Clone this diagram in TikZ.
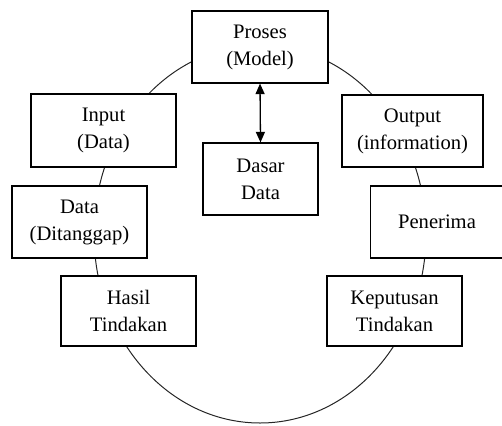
\documentclass[tikz,border=0pt]{standalone}
\usepackage{fontspec}
\setmainfont{Liberation Serif}
\usetikzlibrary{arrows.meta}
\begin{document}
\begin{tikzpicture}[x=1pt,y=-1pt,
  box/.style={draw=black, line width=1.2pt, fill=white, inner sep=0pt, align=center,
    font=\fontsize{20.6}{27}\selectfont},
  ring/.style={draw=black!85, line width=1pt},
  link/.style={line width=1.3pt, {Triangle[length=10.5pt,width=9pt]}-{Triangle[length=10.5pt,width=9pt]}}]
\useasboundingbox (0,0) rectangle (502,425);
\clip (0,0) rectangle (502,425);
\draw[ring] (260,234) ellipse [x radius=166pt, y radius=189pt];
\node[box, minimum width=136pt, minimum height=72pt] (proses) at (260,47) {Proses\\(Model)};
\node[box, minimum width=145pt, minimum height=73pt] (input) at (103.5,130.5) {Input\\(Data)};
\node[box, minimum width=115pt, minimum height=72pt] (dasar) at (260.5,179) {Dasar\\Data};
\node[box, minimum width=141pt, minimum height=72pt] (output) at (412.5,131) {Output\\(information)};
\node[box, minimum width=135pt, minimum height=72pt] (data) at (79.5,222) {Data\\(Ditanggap)};
\node[box, minimum width=133pt, minimum height=72pt] (penerima) at (437,222) {Penerima};
\node[box, minimum width=135pt, minimum height=70pt] (hasil) at (128.5,311) {Hasil\\Tindakan};
\node[box, minimum width=135pt, minimum height=70pt] (keputusan) at (394.5,311) {Keputusan\\Tindakan};
\draw[link] (proses.south) -- (dasar.north);
\end{tikzpicture}
\end{document}
